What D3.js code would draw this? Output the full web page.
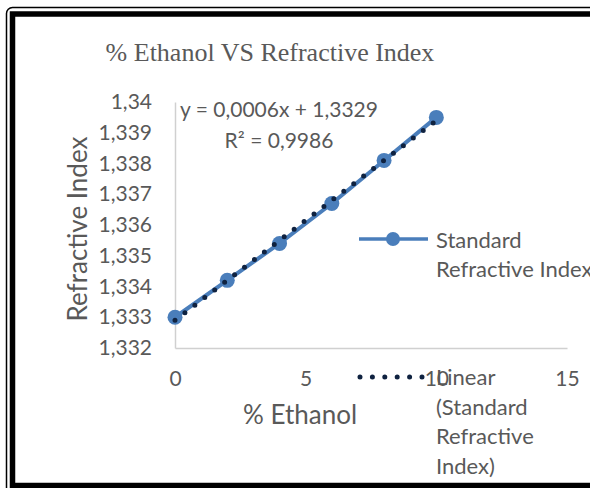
<!DOCTYPE html>
<html>
<head>
<meta charset="utf-8">
<script src="https://cdn.jsdelivr.net/npm/d3@7"></script>
<style>
  html, body { margin: 0; padding: 0; background: #fff; }
  svg { display: block; }
</style>
</head>
<body>
<div id="chart"></div>
<script>
// data
const ethanol = [0, 2, 4, 6, 8, 10];
const refIndex = [1.333, 1.3342, 1.3354, 1.3367, 1.3381, 1.3395];
const xTicks = [0, 5, 10, 15];
const yTicks = [1.332, 1.333, 1.334, 1.335, 1.336, 1.337, 1.338, 1.339, 1.34];
const eqLines = ["y = 0,0006x + 1,3329", "R² = 0,9986"];
const legendSeries = ["Standard", "Refractive Index"];
const legendTrend = ["Linear", "(Standard", "Refractive", "Index)"];

const width = 590, height = 488;
const blue = "#4a7ebb", navy = "#0f2240", grey = "#595959", axisCol = "#d0d0d0";
const sans = "Lato, 'Open Sans', sans-serif";

const svg = d3.select("#chart").append("svg")
  .attr("width", width)
  .attr("height", height);

svg.append("rect").attr("width", width).attr("height", height).attr("fill", "#fff");

// double frame round the picture
svg.append("rect")
  .attr("x", 6.5).attr("y", 7.5)
  .attr("width", 620).attr("height", 500)
  .attr("rx", 6)
  .attr("fill", "none").attr("stroke", "#000").attr("stroke-width", 1.5);
svg.append("rect")
  .attr("x", 12.5).attr("y", 14)
  .attr("width", 620).attr("height", 471.5)
  .attr("fill", "none").attr("stroke", "#000").attr("stroke-width", 5.5);

const x = d3.scaleLinear().domain([0, 15]).range([175, 567]);
const y = d3.scaleLinear().domain([1.332, 1.34]).range([348, 102]);
const fmt = v => d3.format(".4~f")(v).replace(".", ",");

// title
svg.append("text")
  .attr("x", 270).attr("y", 61)
  .attr("text-anchor", "middle")
  .attr("font-family", "'Liberation Serif', 'Times New Roman', serif")
  .attr("font-size", 26)
  .attr("fill", grey)
  .text("% Ethanol VS Refractive Index");

// axes (lines only, no ticks)
const yAxis = svg.append("g")
  .attr("transform", `translate(${x(0)},0)`)
  .call(d3.axisLeft(y).tickValues(yTicks).tickSize(0).tickPadding(23).tickFormat(fmt));
const xAxis = svg.append("g")
  .attr("transform", `translate(0,${y(1.332)})`)
  .call(d3.axisBottom(x).tickValues(xTicks).tickSize(0).tickPadding(23).tickFormat(d => d));

[xAxis, yAxis].forEach(g => {
  g.select(".domain").attr("stroke", axisCol).attr("stroke-width", 1.5);
  g.selectAll("text")
    .attr("font-family", sans)
    .attr("font-size", 21)
    .attr("fill", grey);
});

// axis titles
svg.append("text")
  .attr("transform", "translate(87,229) rotate(-90)")
  .attr("text-anchor", "middle")
  .attr("font-family", sans).attr("font-size", 26).attr("fill", grey)
  .text("Refractive Index");
svg.append("text")
  .attr("x", 300).attr("y", 424)
  .attr("text-anchor", "middle")
  .attr("font-family", sans).attr("font-size", 26).attr("fill", grey)
  .text("% Ethanol");

// series line + markers
const line = d3.line().x(d => x(d[0])).y(d => y(d[1]));
const pts = ethanol.map((e, i) => [e, refIndex[i]]);

svg.append("path")
  .datum(pts)
  .attr("d", line)
  .attr("fill", "none")
  .attr("stroke", blue)
  .attr("stroke-width", 4);

svg.selectAll("circle.pt")
  .data(pts)
  .join("circle")
  .attr("class", "pt")
  .attr("cx", d => x(d[0]))
  .attr("cy", d => y(d[1]))
  .attr("r", 7.5)
  .attr("fill", blue);

// linear trendline, least squares over the series
const mx = d3.mean(ethanol), my = d3.mean(refIndex);
const slope = d3.sum(ethanol, (e, i) => (e - mx) * (refIndex[i] - my)) / d3.sum(ethanol, e => (e - mx) ** 2);
const icpt = my - slope * mx;
const xr = d3.extent(ethanol);

svg.append("path")
  .datum(xr.map(e => [e, icpt + slope * e]))
  .attr("d", line)
  .attr("fill", "none")
  .attr("stroke", navy)
  .attr("stroke-width", 5)
  .attr("stroke-linecap", "round")
  .attr("stroke-dasharray", "0 12.5");

// equation label
svg.append("text")
  .attr("font-family", sans).attr("font-size", 21).attr("fill", grey)
  .attr("text-anchor", "middle")
  .selectAll("tspan")
  .data(eqLines)
  .join("tspan")
  .attr("x", 279)
  .attr("y", (d, i) => 117 + i * 31)
  .text(d => d);

// legend
const lg = svg.append("g");
lg.append("line")
  .attr("x1", 359).attr("x2", 428).attr("y1", 239).attr("y2", 239)
  .attr("stroke", blue).attr("stroke-width", 3.5);
lg.append("circle").attr("cx", 393).attr("cy", 239).attr("r", 7).attr("fill", blue);
lg.append("line")
  .attr("x1", 360).attr("x2", 424).attr("y1", 377).attr("y2", 377)
  .attr("stroke", navy).attr("stroke-width", 5)
  .attr("stroke-linecap", "round").attr("stroke-dasharray", "0 12.4");

lg.append("text")
  .attr("font-family", sans).attr("font-size", 22).attr("fill", grey)
  .selectAll("tspan")
  .data(legendSeries)
  .join("tspan")
  .attr("x", 436)
  .attr("y", (d, i) => 248 + i * 29)
  .text(d => d);
lg.append("text")
  .attr("font-family", sans).attr("font-size", 22).attr("fill", grey)
  .selectAll("tspan")
  .data(legendTrend)
  .join("tspan")
  .attr("x", 436)
  .attr("y", (d, i) => 385 + i * 29.5)
  .text(d => d);
</script>
</body>
</html>
